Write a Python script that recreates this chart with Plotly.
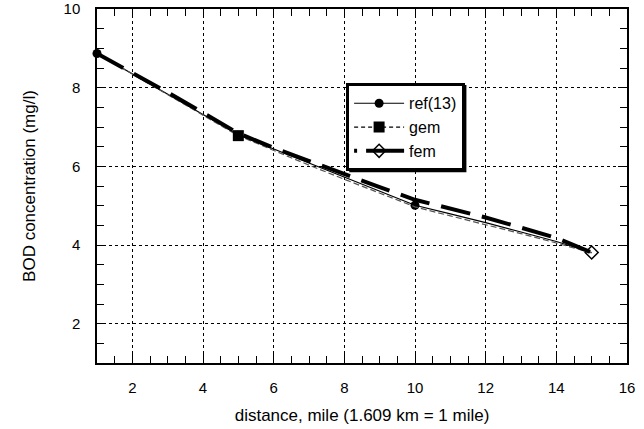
import plotly.graph_objects as go

# distance (mile)
distance = [1, 2, 3, 4, 5, 6, 7, 8, 9, 10, 11, 12, 13, 14, 15]
# BOD concentration (mg/l)
ref13 = [8.87, 8.36, 7.85, 7.32, 6.80, 6.44, 6.07, 5.71, 5.36, 5.01, 4.79, 4.57, 4.33, 4.09, 3.81]
gem = [8.87, 8.34, 7.83, 7.30, 6.78, 6.40, 6.03, 5.67, 5.32, 4.97, 4.74, 4.52, 4.29, 4.05, 3.80]
fem = [8.87, 8.38, 7.88, 7.36, 6.84, 6.47, 6.13, 5.79, 5.47, 5.15, 4.92, 4.70, 4.44, 4.18, 3.81]

# points that carry a marker
ref_marked = [1, 10]
gem_marked = [5]
fem_marked = [15]

series_names = ["ref(13)", "gem", "fem"]

FONT = "Liberation Sans, Arial, Helvetica, sans-serif"

styles = {
    "ref(13)": dict(line=dict(color="black", width=1.2),
                    marker=dict(symbol="circle", size=9, color="black")),
    "gem": dict(line=dict(color="#555555", width=1.2, dash="6px,3px"),
                marker=dict(symbol="square", size=11, color="black")),
    "fem": dict(line=dict(color="black", width=4, dash="30px,12px"),
                marker=dict(symbol="diamond-open", size=10, color="black",
                            line=dict(width=1.5, color="black"))),
}
legend_dash = {"ref(13)": "solid", "gem": "4px,3px", "fem": "3px,9px,40px"}
legend_width = {"ref(13)": 1.2, "gem": 1.2, "fem": 4}

data = {"ref(13)": (ref13, ref_marked), "gem": (gem, gem_marked), "fem": (fem, fem_marked)}

fig = go.Figure()
for name in series_names:
    ys, marked = data[name]
    st = styles[name]
    fig.add_trace(go.Scatter(x=distance, y=ys, mode="lines", line=st["line"],
                             showlegend=False, hoverinfo="skip"))
    mx = [x for x in distance if x in marked]
    my = [y for x, y in zip(distance, ys) if x in marked]
    fig.add_trace(go.Scatter(x=mx, y=my, mode="markers", marker=st["marker"],
                             cliponaxis=False, showlegend=False))

# legend entries
for name in series_names:
    st = styles[name]
    lline = dict(st["line"])
    lline["dash"] = legend_dash[name]
    lline["color"] = "black"
    lline["width"] = legend_width[name]
    fig.add_trace(go.Scatter(x=[None], y=[None], name=name, mode="lines+markers",
                             line=lline, marker=st["marker"]))

axis_common = dict(
    showline=True, linecolor="black", linewidth=1.5, mirror="ticks",
    ticks="inside", ticklen=9, tickcolor="black", tickwidth=1,
    showgrid=True, gridcolor="black", gridwidth=1, griddash="dot",
    zeroline=False, automargin=False,
    minor=dict(dtick=0.5, ticks="inside", ticklen=7, tickcolor="black", tickwidth=1, showgrid=False),
    tickfont=dict(family=FONT, size=15, color="black"),
)

fig.update_xaxes(range=[1, 16], dtick=2, tick0=0, ticklabelstandoff=10,
                 title=dict(text="distance, mile (1.609 km = 1 mile)",
                            font=dict(family=FONT, size=17, color="black"), standoff=14),
                 **axis_common)
fig.update_yaxes(range=[1, 10], dtick=2, tick0=0, ticklabelstandoff=12,
                 title=dict(text="BOD concentration (mg/l)",
                            font=dict(family=FONT, size=17, color="black"), standoff=24),
                 **axis_common)

# legend drop shadow
fig.add_shape(type="rect", xref="paper", yref="paper",
              x0=0.476, x1=0.697, y0=0.539, y1=0.785,
              fillcolor="black", line=dict(width=0), layer="above")

fig.update_layout(
    width=644, height=429,
    margin=dict(l=97, r=17, t=9, b=66, autoexpand=False),
    paper_bgcolor="white", plot_bgcolor="white",
    font=dict(family=FONT, color="black"),
    legend=dict(x=0.47, y=0.79, xanchor="left", yanchor="top",
                bgcolor="white", bordercolor="black", borderwidth=3,
                itemsizing="trace", itemwidth=50,
                font=dict(family=FONT, size=16, color="black"),
                tracegroupgap=0),
)

fig.write_html("out.html", config={"displayModeBar": False},
               post_script="document.body.style.margin='0';document.body.style.padding='0';")
